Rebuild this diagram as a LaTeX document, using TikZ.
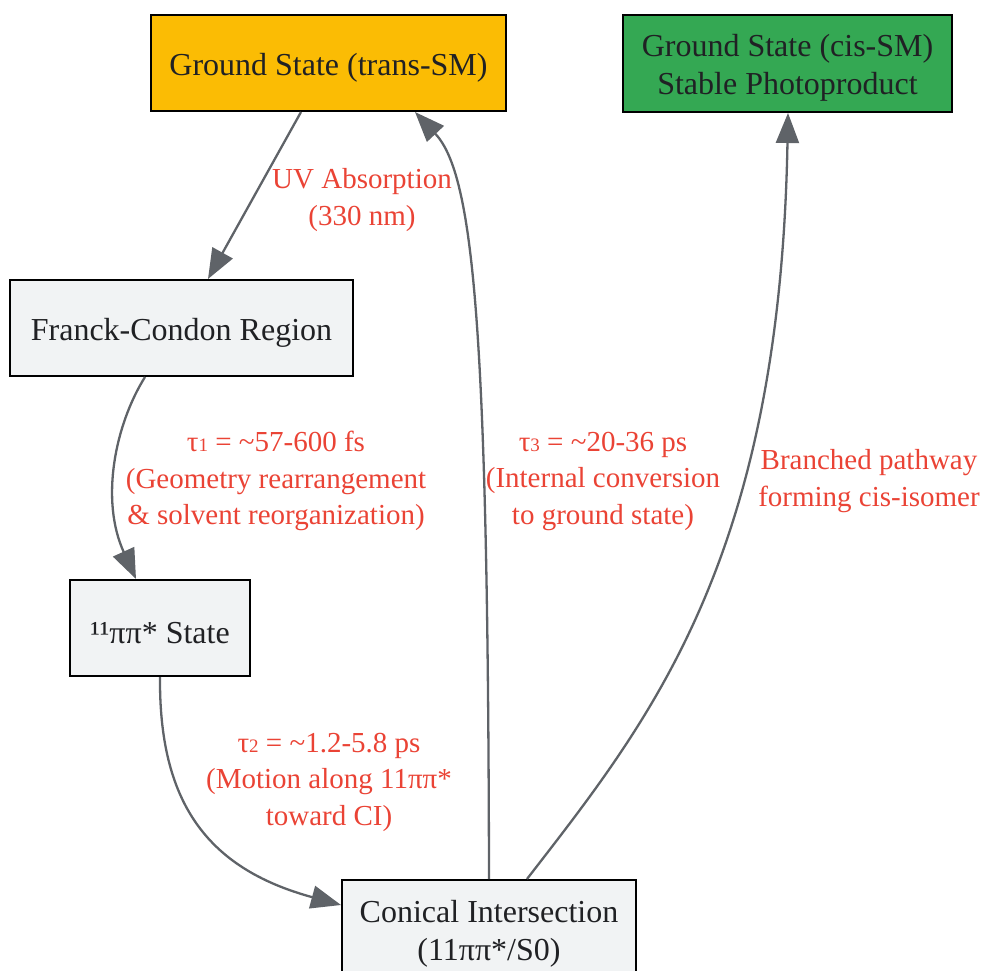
\documentclass[tikz,border=0pt]{standalone}
\usepackage{fontspec}
\setmainfont{Liberation Serif}
\usetikzlibrary{arrows.meta}
\definecolor{edgec}{HTML}{5F6368}
\definecolor{labc}{HTML}{EA4335}
\definecolor{txtc}{HTML}{202124}
\definecolor{amber}{HTML}{FBBC04}
\definecolor{leaf}{HTML}{34A853}
\definecolor{pale}{HTML}{F1F3F4}
\newcommand\subdig[1]{{\fontsize{19}{19}\selectfont #1}}
\tikzset{
  box/.style={draw=black, line width=2pt, text=txtc, font=\fontsize{32}{38}\selectfont,
    align=center, inner sep=0pt, minimum height=96pt, text height=31pt},
  boxtwo/.style={box, text height=69pt},
  lbl/.style={text=labc, font=\fontsize{29}{36.5}\selectfont, align=center, inner sep=0pt},
  conn/.style={draw=edgec, line width=2.3pt, -{Triangle[length=30pt,width=23pt]}}
}
\begin{document}
\begin{tikzpicture}[x=1pt,y=-1pt]
\useasboundingbox (0,0) rectangle (982,971);
\node[box, fill=amber, minimum width=355pt] (trans) at (328.5,63) {Ground State (trans-SM)};
\node[boxtwo, fill=leaf, minimum width=329pt, minimum height=97pt] (cis) at (787.5,63.5) {Ground State (cis-SM)\\Stable Photoproduct};
\node[box, fill=pale, minimum width=343pt] (fc) at (181.5,328) {Franck-Condon Region};
\node[box, fill=pale, minimum width=180pt] (pp) at (160,628) {¹¹ππ* State};
\node[boxtwo, fill=pale, minimum width=294pt, minimum height=98pt] (ci) at (489,929) {Conical Intersection\\(11ππ*/S0)};

\draw[conn] ([xshift=-27.5pt]trans.south) -- ([xshift=26.5pt]fc.north);
\draw[conn] ([xshift=-36.5pt]fc.south) .. controls (115,425) and (100,500) .. ([xshift=-24pt]pp.north);
\draw[conn] (pp.south) .. controls (159,800) and (205,868) .. ([yshift=24pt]ci.west);
\draw[conn] (ci.north) .. controls (488,330) and (474,175) .. ([xshift=86.5pt]trans.south);
\draw[conn] ([xshift=38pt]ci.north) .. controls (650,720) and (780,560) .. ([xshift=0.5pt]cis.south);

\node[lbl] (l1) at (362,200) {UV Absorption\\(330 nm)};
\node[lbl] (l2) at (276,481) {τ\subdig{1} = \textasciitilde 57-600 fs\\(Geometry rearrangement\\\& solvent reorganization)};
\node[lbl] (l3) at (329,782) {τ\subdig{2} = \textasciitilde 1.2-5.8 ps\\(Motion along 11ππ*\\toward CI)};
\node[lbl] (l4) at (603,481) {τ\subdig{3} = \textasciitilde 20-36 ps\\(Internal conversion\\to ground state)};
\node[lbl] (l5) at (869,481) {Branched pathway\\forming cis-isomer};
\end{tikzpicture}
\end{document}
